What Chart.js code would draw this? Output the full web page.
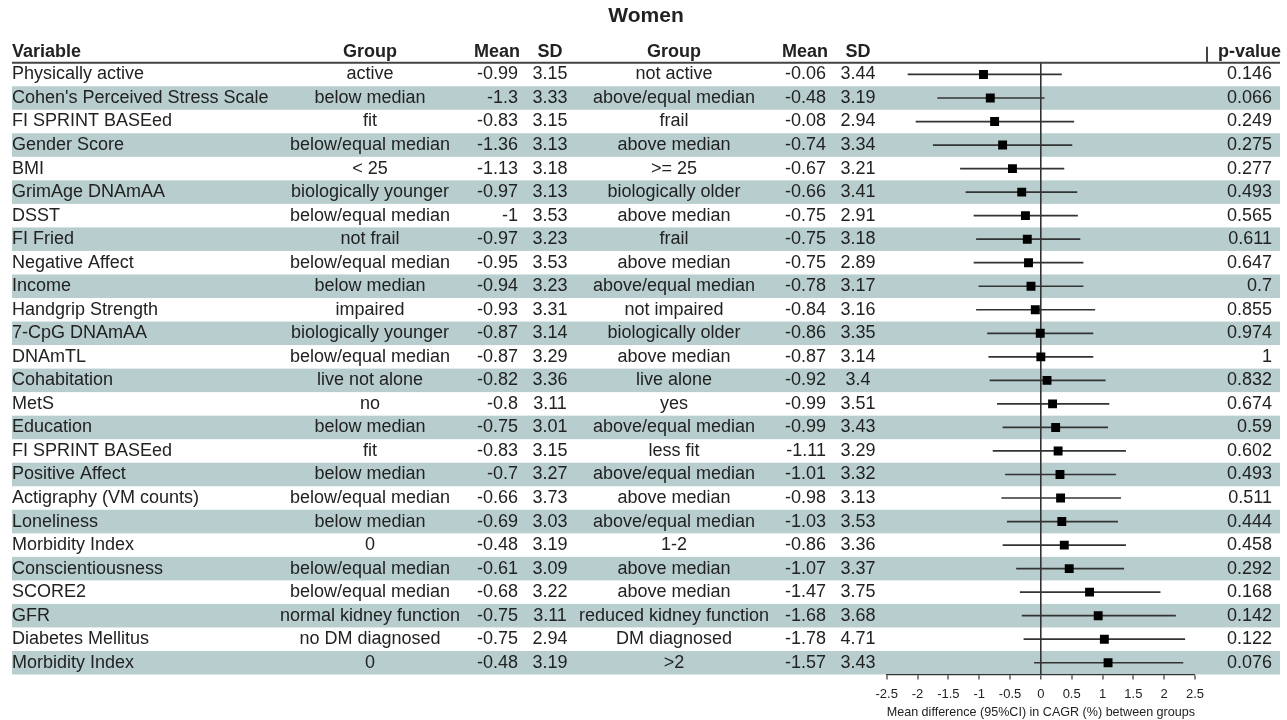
<!DOCTYPE html>
<html>
<head>
<meta charset="utf-8">
<title>Women</title>
<script src="https://cdn.jsdelivr.net/npm/chart.js@4/dist/chart.umd.min.js"></script>
<style>
  html, body { margin: 0; padding: 0; background: #ffffff; }
  canvas { display: block; }
</style>
</head>
<body>
<canvas id="forest" width="1287" height="720"></canvas>
<script>
// Table columns, one entry per row (top to bottom)
const variables = [
  "Physically active", "Cohen's Perceived Stress Scale", "FI SPRINT BASEed", "Gender Score", "BMI",
  "GrimAge DNAmAA", "DSST", "FI Fried", "Negative Affect", "Income", "Handgrip Strength",
  "7-CpG DNAmAA", "DNAmTL", "Cohabitation", "MetS", "Education", "FI SPRINT BASEed",
  "Positive Affect", "Actigraphy (VM counts)", "Loneliness", "Morbidity Index",
  "Conscientiousness", "SCORE2", "GFR", "Diabetes Mellitus", "Morbidity Index"
];
const group1 = [
  "active", "below median", "fit", "below/equal median", "< 25", "biologically younger",
  "below/equal median", "not frail", "below/equal median", "below median", "impaired",
  "biologically younger", "below/equal median", "live not alone", "no", "below median", "fit",
  "below median", "below/equal median", "below median", "0", "below/equal median",
  "below/equal median", "normal kidney function", "no DM diagnosed", "0"
];
const mean1 = [
  -0.99, -1.3, -0.83, -1.36, -1.13, -0.97, -1, -0.97, -0.95, -0.94, -0.93, -0.87, -0.87,
  -0.82, -0.8, -0.75, -0.83, -0.7, -0.66, -0.69, -0.48, -0.61, -0.68, -0.75, -0.75, -0.48
];
const sd1 = [
  3.15, 3.33, 3.15, 3.13, 3.18, 3.13, 3.53, 3.23, 3.53, 3.23, 3.31, 3.14, 3.29,
  3.36, 3.11, 3.01, 3.15, 3.27, 3.73, 3.03, 3.19, 3.09, 3.22, 3.11, 2.94, 3.19
];
const group2 = [
  "not active", "above/equal median", "frail", "above median", ">= 25", "biologically older",
  "above median", "frail", "above median", "above/equal median", "not impaired",
  "biologically older", "above median", "live alone", "yes", "above/equal median", "less fit",
  "above/equal median", "above median", "above/equal median", "1-2", "above median",
  "above median", "reduced kidney function", "DM diagnosed", ">2"
];
const mean2 = [
  -0.06, -0.48, -0.08, -0.74, -0.67, -0.66, -0.75, -0.75, -0.75, -0.78, -0.84, -0.86, -0.87,
  -0.92, -0.99, -0.99, -1.11, -1.01, -0.98, -1.03, -0.86, -1.07, -1.47, -1.68, -1.78, -1.57
];
const sd2 = [
  3.44, 3.19, 2.94, 3.34, 3.21, 3.41, 2.91, 3.18, 2.89, 3.17, 3.16, 3.35, 3.14,
  3.4, 3.51, 3.43, 3.29, 3.32, 3.13, 3.53, 3.36, 3.37, 3.75, 3.68, 4.71, 3.43
];
const pValues = [
  0.146, 0.066, 0.249, 0.275, 0.277, 0.493, 0.565, 0.611, 0.647, 0.7, 0.855, 0.974, 1,
  0.832, 0.674, 0.59, 0.602, 0.493, 0.511, 0.444, 0.458, 0.292, 0.168, 0.142, 0.122, 0.076
];

// Mean difference and 95% CI for each row
const estimate = [
  -0.93, -0.82, -0.75, -0.62, -0.46, -0.31, -0.25, -0.22, -0.20, -0.16, -0.09, -0.01, 0,
  0.10, 0.19, 0.24, 0.28, 0.31, 0.32, 0.34, 0.38, 0.46, 0.79, 0.93, 1.03, 1.09
];
const ciLow = [
  -2.16, -1.68, -2.03, -1.75, -1.31, -1.22, -1.09, -1.05, -1.09, -1.01, -1.05, -0.87, -0.85,
  -0.83, -0.71, -0.62, -0.78, -0.58, -0.64, -0.55, -0.62, -0.40, -0.34, -0.31, -0.28, -0.11
];
const ciHigh = [
  0.34, 0.06, 0.54, 0.51, 0.38, 0.59, 0.60, 0.64, 0.69, 0.69, 0.88, 0.85, 0.85,
  1.05, 1.11, 1.09, 1.38, 1.22, 1.30, 1.25, 1.38, 1.35, 1.94, 2.19, 2.34, 2.31
];

const xTicks = [-2.5, -2, -1.5, -1, -0.5, 0, 0.5, 1, 1.5, 2, 2.5];
const headers = ["Variable", "Group", "Mean", "SD", "Group", "Mean", "SD", "p-value"];
const chartTitle = "Women";
const axisTitle = "Mean difference (95%CI) in CAGR (%) between groups";

const FONT = '"Liberation Sans", Arial, Helvetica, sans-serif';
const TEXT = '#222222';
const INK = '#333333';
const BAND = 'rgb(184, 206, 206)';
const TABLE_LEFT = 12;
const TABLE_RIGHT = 1280;

// Column anchors: [x, alignment]
const cols = {
  variable: [12, 'left'],
  group1: [370, 'center'],
  mean1: [518, 'right'],
  sd1: [550, 'center'],
  group2: [674, 'center'],
  mean2: [826, 'right'],
  sd2: [858, 'center'],
  p: [1272, 'right']
};

const tablePlugin = {
  id: 'forestTable',
  beforeDraw(chart) {
    const { ctx } = chart;
    const y = chart.scales.y;
    ctx.save();
    ctx.fillStyle = '#ffffff';
    ctx.fillRect(0, 0, chart.width, chart.height);
    ctx.fillStyle = BAND;
    variables.forEach((_, i) => {
      if (i % 2 === 1) {
        const top = y.getPixelForValue(i + 0.5);
        const bottom = y.getPixelForValue(i + 1.5);
        ctx.fillRect(TABLE_LEFT, top, TABLE_RIGHT - TABLE_LEFT, bottom - top);
      }
    });
    ctx.restore();
  },
  afterDraw(chart) {
    const { ctx } = chart;
    const y = chart.scales.y;
    const x = chart.scales.x;
    ctx.save();

    // Title
    ctx.fillStyle = TEXT;
    ctx.textBaseline = 'middle';
    ctx.textAlign = 'center';
    ctx.font = 'bold 21px ' + FONT;
    ctx.fillText(chartTitle, 646, 16);

    // Header row and rule
    const headY = y.getPixelForValue(0.5) - 11;
    ctx.font = 'bold 18px ' + FONT;
    const headCols = [cols.variable, cols.group1, [520, 'right'], cols.sd1, cols.group2, [828, 'right'], cols.sd2, [1281, 'right']];
    headers.forEach((h, k) => {
      ctx.textAlign = headCols[k][1];
      ctx.fillText(h, headCols[k][0], headY);
    });
    const ruleY = y.getPixelForValue(0.5);
    ctx.strokeStyle = '#444444';
    ctx.lineWidth = 2;
    ctx.beginPath();
    ctx.moveTo(TABLE_LEFT, ruleY);
    ctx.lineTo(TABLE_RIGHT, ruleY);
    ctx.moveTo(x.right + 12, ruleY - 16);
    ctx.lineTo(x.right + 12, ruleY);
    ctx.stroke();

    // Body rows
    ctx.font = '18px ' + FONT;
    const put = (text, col, yy) => {
      ctx.textAlign = col[1];
      ctx.fillText(String(text), col[0], yy);
    };
    variables.forEach((v, i) => {
      const yy = y.getPixelForValue(i + 1);
      put(v, cols.variable, yy);
      put(group1[i], cols.group1, yy);
      put(mean1[i], cols.mean1, yy);
      put(sd1[i], cols.sd1, yy);
      put(group2[i], cols.group2, yy);
      put(mean2[i], cols.mean2, yy);
      put(sd2[i], cols.sd2, yy);
      put(pValues[i], cols.p, yy);
    });
    ctx.restore();
  }
};

// Whisker for each row, drawn as a two-point line on the shared scales
const ciSets = variables.map((_, i) => ({
  data: [{ x: ciLow[i], y: i + 1 }, { x: ciHigh[i], y: i + 1 }],
  showLine: true,
  borderColor: INK,
  borderWidth: 1.7,
  pointRadius: 0,
  pointHoverRadius: 0
}));

const pointSet = {
  data: estimate.map((v, i) => ({ x: v, y: i + 1 })),
  showLine: false,
  pointStyle: 'rect',
  pointRadius: 6.3,
  pointHoverRadius: 6.3,
  backgroundColor: '#000000',
  borderColor: '#000000',
  borderWidth: 0
};

new Chart(document.getElementById('forest'), {
  type: 'scatter',
  data: { datasets: [pointSet, ...ciSets] },
  options: {
    responsive: false,
    animation: false,
    devicePixelRatio: 1,
    events: [],
    layout: { padding: { left: 886.7, right: 92, top: 62.7, bottom: 0 } },
    plugins: { legend: { display: false }, tooltip: { enabled: false }, title: { display: false } },
    scales: {
      x: {
        type: 'linear',
        min: -2.5,
        max: 2.5,
        afterBuildTicks: (s) => { s.ticks = xTicks.map(v => ({ value: v })); },
        afterFit: (s) => { s.height = 45.5; },
        border: { display: true, color: INK, width: 1.2 },
        grid: {
          drawOnChartArea: true,
          drawTicks: true,
          tickLength: 5,
          tickColor: INK,
          tickWidth: 1.2,
          color: (c) => (c.tick && c.tick.value === 0 ? INK : 'rgba(0,0,0,0)'),
          lineWidth: (c) => (c.tick && c.tick.value === 0 ? 1.6 : 0)
        },
        ticks: {
          autoSkip: false,
          maxRotation: 0,
          padding: 7,
          color: TEXT,
          font: { family: FONT, size: 13 },
          callback: (v) => String(v)
        },
        title: {
          display: true,
          text: axisTitle,
          color: TEXT,
          font: { family: FONT, size: 13 },
          padding: { top: 0, bottom: 0 }
        }
      },
      y: {
        type: 'linear',
        min: 0.5,
        max: 26.5,
        reverse: true,
        display: false
      }
    }
  },
  plugins: [tablePlugin]
});
</script>
</body>
</html>
